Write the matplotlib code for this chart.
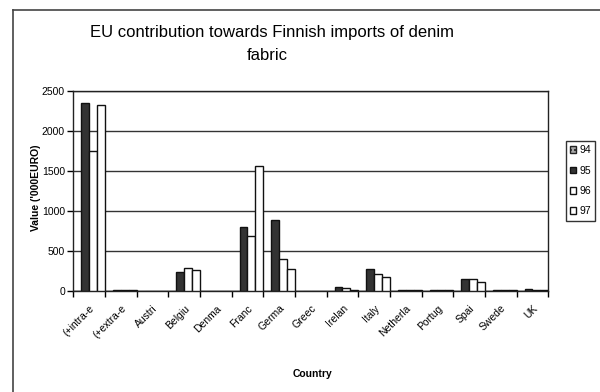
import matplotlib
matplotlib.use("Agg")
import matplotlib.pyplot as plt
from matplotlib.lines import Line2D
from matplotlib.patches import Patch
import numpy as np

plt.rcParams['font.family'] = ['Liberation Sans', 'DejaVu Sans']

countries = ["(+intra-e", "(+extra-e", "Austri", "Belgiu", "Denma", "Franc",
             "Germa", "Greec", "Irelan", "Italy", "Netherla", "Portug",
             "Spai", "Swede", "UK"]
years = ["94", "95", "96", "97"]
v94 = [0, 0, 0, 0, 0, 0, 0, 0, 0, 0, 0, 0, 0, 0, 0]
v95 = [2340, 8, 0, 230, 0, 800, 885, 0, 50, 270, 4, 4, 145, 4, 20]
v96 = [1750, 8, 2, 290, 0, 690, 400, 0, 30, 215, 3, 3, 150, 3, 12]
v97 = [2320, 15, 2, 260, 0, 1560, 275, 0, 15, 170, 3, 3, 105, 3, 8]
y_ticks = [0, 500, 1000, 1500, 2000, 2500]

W, H = 600, 392
fig = plt.figure(figsize=(W / 100, H / 100), dpi=100)
ax = fig.add_axes([73.3 / W, 1 - 290.7 / H, 475 / W, 200 / H])

n = len(countries)
idx = np.arange(n)
bw = 0.25
styles = [
    dict(facecolor="#a8a8a8", edgecolor="#222222", hatch="...."),
    dict(facecolor="#333333", edgecolor="#111111"),
    dict(facecolor="white", edgecolor="#111111"),
    dict(facecolor="white", edgecolor="#111111"),
]
for k, (vals, st) in enumerate(zip([v94, v95, v96, v97], styles)):
    ax.bar(idx + bw * (k + 0.5), vals, width=bw, linewidth=1.0,
           zorder=3, **st)

ax.set_xlim(0, n)
ax.set_ylim(0, 2500)
ax.set_yticks(y_ticks)
ax.set_yticklabels([str(t) for t in y_ticks], fontsize=7.5)
ax.yaxis.grid(True, color="#333333", linewidth=1.0, zorder=0)
ax.set_axisbelow(True)

ax.set_xticks(idx + 0.5)
ax.set_xticklabels(countries, rotation=45, ha="right", va="top",
                   rotation_mode="anchor", fontsize=7.5)
ax.set_xticks(np.arange(n + 1), minor=True)
ax.tick_params(axis="x", which="major", length=0, pad=9)
ax.tick_params(axis="x", which="minor", length=4, width=1, direction="out")
ax.tick_params(axis="y", length=4, width=1, direction="out", pad=2)

for s in ax.spines.values():
    s.set_color("#222222")
    s.set_linewidth(1.0)

fig.text(36 / W, 1 - 188 / H, "Value ('000EURO)", rotation=90,
         ha="center", va="center", fontsize=7.5, fontweight="bold")
fig.text(313 / W, 1 - 374 / H, "Country", ha="center", va="center",
         fontsize=7.5, fontweight="bold")

fig.text(272 / W, 1 - 36.7 / H,
         "EU contribution towards Finnish imports of denim",
         ha="center", va="baseline", fontsize=12)
fig.text(267 / W, 1 - 60 / H, "fabric", ha="center", va="baseline",
         fontsize=12)

handles = [Patch(linewidth=1.0, **st) for st in styles]
leg = fig.legend(handles, years, loc="upper left",
                 bbox_to_anchor=(566 / W, 1 - 141 / H), fontsize=7.5,
                 handlelength=0.6, handleheight=0.6, handletextpad=0.3,
                 labelspacing=1.0, borderpad=0.4, borderaxespad=0,
                 fancybox=False, framealpha=1, edgecolor="#333333")
leg.get_frame().set_linewidth(1.0)

# chart-area border
fig.add_artist(Line2D([13 / W, 13 / W], [0, 1 - 10 / H], color="#444444",
                      linewidth=1.2, transform=fig.transFigure))
fig.add_artist(Line2D([13 / W, 1], [1 - 10 / H, 1 - 10 / H],
                      color="#444444", linewidth=1.2,
                      transform=fig.transFigure))

fig.savefig("out.png", dpi=100)
